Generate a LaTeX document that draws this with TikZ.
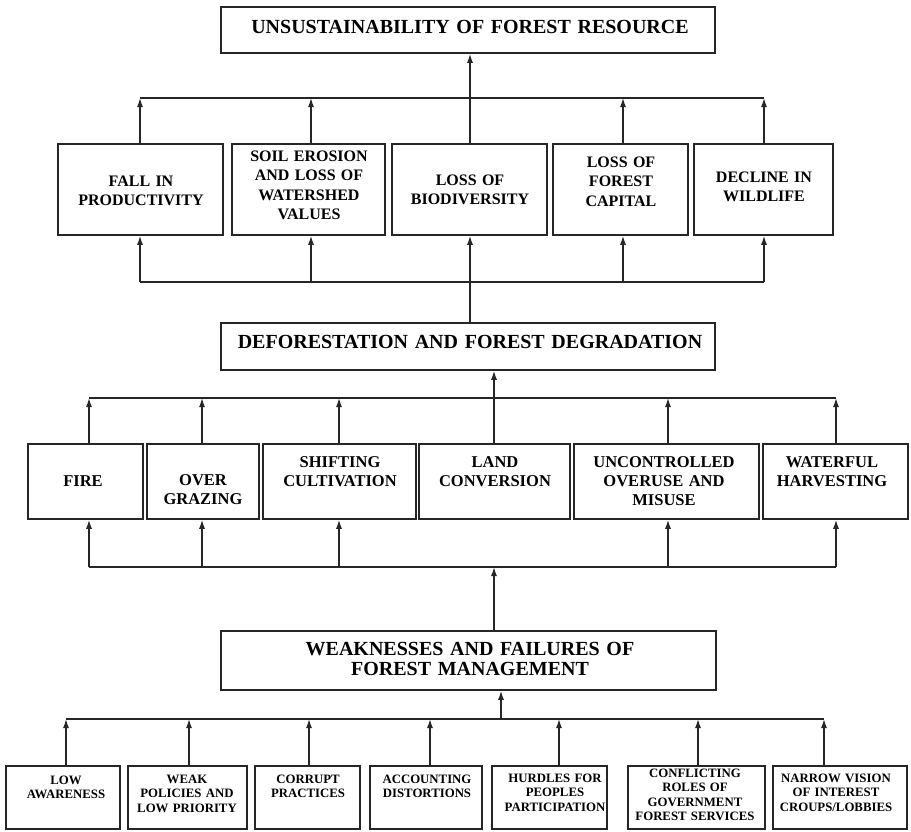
\documentclass[tikz,border=0pt]{standalone}
\usepackage{fontspec}
\setmainfont{Liberation Serif}
\usetikzlibrary{arrows.meta,fit}
\begin{document}
\begin{tikzpicture}[x=1pt,y=-1pt,
  box/.style={draw=black!85, line width=1.6pt, inner sep=0pt},
  link/.style={draw=black!85, line width=1.3pt},
  arr/.style={link, -{Latex[length=9pt,width=6pt]}},
  lbl/.style={align=center, anchor=base, inner sep=0pt, text width=#1},
  lbl/.default=180pt,
  headtxt/.style={lbl=480pt, font=\bfseries\fontsize{20}{20}\selectfont},
  efftxt/.style={lbl=150pt, font=\bfseries\fontsize{16}{19.5}\selectfont},
  causetxt/.style={lbl=180pt, font=\bfseries\fontsize{16.5}{19.2}\selectfont},
  roottxt/.style={lbl=135pt, font=\bfseries\fontsize{12.8}{14.5}\selectfont},
]
\useasboundingbox (0,0) rectangle (911,831);

% ---------- main chain boxes ----------
\node[box, fit={(221,7)(715,53)}] (T) {};
\node[headtxt] (Tt) at (470,33) {UNSUSTAINABILITY OF FOREST RESOURCE};
\node[box, fit={(221,323)(715,370)}] (D) {};
\node[headtxt] (Dt) at (470,348) {DEFORESTATION AND FOREST DEGRADATION};
\node[box, fit={(221,631)(716,690)}] (W) {};
\node[headtxt] (Wt) at (470,655) {WEAKNESSES AND FAILURES OF\\FOREST MANAGEMENT};

% ---------- effects ----------
\node[box, fit={(58,144)(223,235)}]  (B1) {};
\node[box, fit={(232,144)(385,235)}] (B2) {};
\node[box, fit={(392,144)(547,235)}] (B3) {};
\node[box, fit={(553,144)(688,235)}] (B4) {};
\node[box, fit={(694,144)(833,235)}] (B5) {};
\node[efftxt] (B1t) at (141,186) {FALL IN\\PRODUCTIVITY};
\node[efftxt] (B2t) at (309,161) {SOIL EROSION\\AND LOSS OF\\WATERSHED\\VALUES};
\node[efftxt] (B3t) at (470,185) {LOSS OF\\BIODIVERSITY};
\node[efftxt] (B4t) at (621,167) {LOSS OF\\FOREST\\CAPITAL};
\node[efftxt] (B5t) at (764,182) {DECLINE IN\\WILDLIFE};

% ---------- direct causes ----------
\node[box, fit={(28,444)(143,519)}]  (F1) {};
\node[box, fit={(147,444)(259,519)}] (F2) {};
\node[box, fit={(263,444)(416,519)}] (F3) {};
\node[box, fit={(419,444)(570,519)}] (F4) {};
\node[box, fit={(574,444)(759,519)}] (F5) {};
\node[box, fit={(763,444)(908,519)}] (F6) {};
\node[causetxt] (F1t) at (83,486)  {FIRE};
\node[causetxt] (F2t) at (203,485) {OVER\\GRAZING};
\node[causetxt] (F3t) at (340,467) {SHIFTING\\CULTIVATION};
\node[causetxt] (F4t) at (495,467) {LAND\\CONVERSION};
\node[causetxt] (F5t) at (664,467) {UNCONTROLLED\\OVERUSE AND\\MISUSE};
\node[causetxt] (F6t) at (832,467) {WATERFUL\\HARVESTING};

% ---------- underlying causes ----------
\node[box, fit={(6,766)(120,829)}]   (L1) {};
\node[box, fit={(128,766)(247,829)}] (L2) {};
\node[box, fit={(255,766)(360,829)}] (L3) {};
\node[box, fit={(370,766)(482,829)}] (L4) {};
\node[box, fit={(492,766)(607,829)}] (L5) {};
\node[box, fit={(628,766)(765,829)}] (L6) {};
\node[box, fit={(773,766)(907,829)}] (L7) {};
\node[roottxt] (L1t) at (66,784)  {LOW\\AWARENESS};
\node[roottxt] (L2t) at (187,783) {WEAK\\POLICIES AND\\LOW PRIORITY};
\node[roottxt] (L3t) at (308,783) {CORRUPT\\PRACTICES};
\node[roottxt] (L4t) at (427,783) {ACCOUNTING\\DISTORTIONS};
\node[roottxt] (L5t) at (555,782) {HURDLES FOR\\PEOPLES\\PARTICIPATION};
\node[roottxt] (L6t) at (695,777) {CONFLICTING\\ROLES OF\\GOVERNMENT\\FOREST SERVICES};
\node[roottxt] (L7t) at (836,782) {NARROW VISION\\OF INTEREST\\CROUPS/LOBBIES};

% ---------- bus lines ----------
\coordinate (e1) at (140,98);  \coordinate (e2) at (764,98);
\coordinate (e3) at (140,282); \coordinate (e4) at (764,282);
\coordinate (c1) at (89,398);  \coordinate (c2) at (836,398);
\coordinate (c3) at (89,567);  \coordinate (c4) at (836,567);
\coordinate (r1) at (66,719);  \coordinate (r2) at (824,719);
\coordinate (mx) at (470,0);
\coordinate (jD) at (494,567);
\coordinate (jW) at (501,719);

\draw[link] (e1) -- (e2);
\draw[link] (e3) -- (e4);
\draw[link] (c1) -- (c2);
\draw[link] (c3) -- (c4);
\draw[link] (r1) -- (r2);

% effects feed the top box
\draw[arr] (B3.north -| mx) -- (T.south -| mx);
\foreach \b/\x in {B1/140,B2/311,B4/623,B5/764}{
  \draw[arr] (\b.north -| \x,0) -- (\x,98);
  \draw[arr] (\x,282) -- (\b.south -| \x,0);
}
\draw[arr] (D.north -| mx) -- (B3.south -| mx);

% direct causes feed deforestation
\draw[arr] (F4.north -| 494,0) -- (D.south -| 494,0);
\foreach \f/\x in {F1/89,F2/202,F3/339,F5/668,F6/836}{
  \draw[arr] (\f.north -| \x,0) -- (\x,398);
  \draw[arr] (\x,567) -- (\f.south -| \x,0);
}
\draw[arr] (W.north -| jD) -- (jD);

% underlying causes feed management failures
\draw[arr] (jW) -- (W.south -| jW);
\foreach \l/\x in {L1/66,L2/189,L3/309,L4/430,L5/559,L6/698,L7/824}{
  \draw[arr] (\l.north -| \x,0) -- (\x,719);
}
\end{tikzpicture}
\end{document}
